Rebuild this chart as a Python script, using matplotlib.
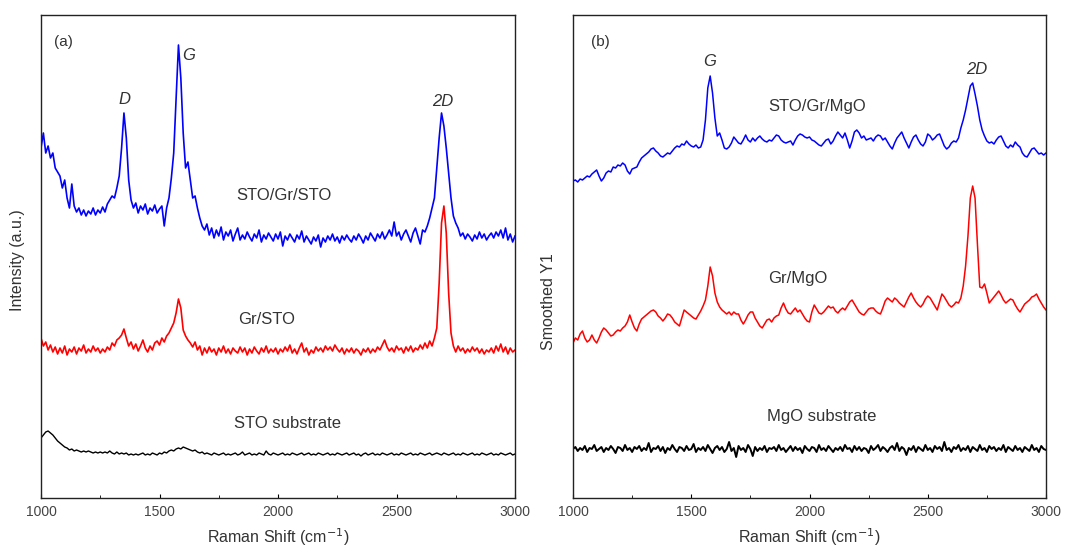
#!/usr/bin/env python3
import numpy as np
import matplotlib
matplotlib.use("Agg")
import matplotlib.pyplot as plt
from matplotlib.ticker import MultipleLocator

plt.rcParams["font.family"] = ["Liberation Sans", "DejaVu Sans"]

# -----------------------------
# data (arbitrary intensity units)
# -----------------------------
shift = np.arange(1000, 3001, 10)  # Raman shift, cm^-1

# (a) STO/Gr/STO
sto_gr_sto = [
    350, 365, 345, 352, 340, 345, 330, 326, 322, 310,
    318, 300, 290, 314, 292, 286, 290, 283, 288, 282,
    287, 284, 290, 283, 288, 285, 291, 286, 294, 298,
    302, 300, 310, 322, 350, 385, 360, 318, 298, 290,
    295, 285, 292, 288, 294, 284, 290, 287, 293, 285,
    289, 292, 272, 290, 300, 320, 345, 400, 453, 420,
    365, 330, 336, 318, 300, 302, 290, 280, 272, 268,
    274, 263, 270, 260, 268, 262, 271, 258, 266, 262,
    268, 257, 264, 270, 258, 263, 259, 266, 261, 257,
    264, 260, 268, 256, 263, 259, 265, 261, 257, 264,
    259, 266, 252, 262, 258, 264, 260, 256, 263, 259,
    267, 256, 262, 258, 254, 261, 257, 263, 251, 260,
    256, 262, 258, 264, 257, 261, 255, 262, 258, 263,
    259, 256, 262, 258, 264, 260, 255, 262, 258, 265,
    261, 257, 264, 260, 266, 259, 263, 268, 262, 276,
    262, 266, 258, 264, 268, 262, 256, 265, 270, 262,
    254, 268, 266, 272, 280, 290, 300, 330, 360, 385,
    372, 350, 325, 300, 282, 275, 270, 262, 265, 259,
    264, 261, 257, 263, 259, 266, 260, 264, 258, 262,
    265, 260, 266, 262, 268, 260, 270, 258, 264, 256,
    262,
]

# (a) Gr/STO
gr_sto = [
    160, 152, 156, 148, 153, 146, 151, 144, 150, 145,
    152, 143, 149, 146, 151, 144, 150, 147, 153, 145,
    149, 146, 152, 147, 150, 145, 149, 146, 151, 148,
    155, 152, 158, 160, 163, 169, 160, 152, 156, 149,
    154, 147, 152, 158, 150, 146, 152, 148, 155, 157,
    153, 160, 156, 162, 165, 170, 175, 185, 199, 190,
    168, 162, 158, 155, 151, 156, 148, 152, 143, 150,
    145, 151, 146, 149, 143, 150, 146, 152, 145, 149,
    144, 150, 147, 145, 151, 146, 150, 143, 149, 145,
    151, 147, 144, 150, 146, 152, 145, 149, 146, 150,
    144, 149, 146, 151, 147, 153, 145, 149, 144, 150,
    155, 146, 150, 143, 148, 145, 151, 147, 150, 146,
    152, 148, 151, 147, 153, 149, 146, 150, 144, 149,
    146, 150, 145, 149, 147, 143, 149, 146, 150, 145,
    149, 146, 151, 148, 153, 158, 151, 147, 150, 146,
    152, 148, 150, 145, 151, 147, 152, 146, 150, 148,
    153, 149, 155, 150, 157, 152, 160, 170, 215, 275,
    292, 265, 205, 165, 152, 146, 152, 147, 150, 145,
    149, 146, 151, 147, 150, 145, 149, 144, 148, 146,
    150, 145, 152, 147, 154, 146, 151, 144, 150, 146,
    148,
]

# (a) STO substrate
sto_sub = [
    60, 63, 66, 67, 65, 63, 60, 57, 55, 53,
    51, 50, 48, 49, 47, 48, 47, 46, 47, 46,
    47, 46, 45, 46, 45, 46, 45, 46, 45, 47,
    45, 44, 46, 44, 45, 44, 45, 43, 44, 43,
    44, 43, 44, 45, 43, 44, 43, 45, 44, 43,
    45, 44, 46, 45, 47, 48, 47, 49, 50, 49,
    51, 50, 49, 48, 47, 48, 46, 45, 46, 44,
    45, 44, 43, 45, 44, 43, 44, 45, 43, 44,
    43, 44, 45, 43, 44, 46, 43, 44, 45, 43,
    44, 43, 45, 44, 43, 47, 44, 43, 45, 44,
    43, 44, 45, 43, 44, 43, 45, 44, 43, 44,
    45, 43, 44, 45, 43, 44, 43, 45, 44, 43,
    44, 45, 43, 44, 43, 45, 44, 43, 44, 45,
    43, 44, 45, 43, 44, 42, 44, 45, 43, 44,
    45, 43, 44, 43, 45, 44, 43, 44, 45, 43,
    44, 43, 45, 44, 43, 44, 45, 43, 44, 43,
    45, 44, 43, 44, 45, 43, 44, 45, 44, 43,
    45, 44, 43, 44, 45, 43, 44, 43, 45, 44,
    43, 44, 45, 43, 44, 43, 45, 44, 43, 44,
    45, 43, 44, 43, 45, 44, 43, 44, 45, 43,
    44,
]

# (b) STO/Gr/MgO
sto_gr_mgo = [
    317, 318, 316, 319, 318, 320, 322, 321, 324, 326,
    328, 322, 317, 320, 325, 327, 326, 331, 330, 333,
    332, 335, 333, 327, 324, 329, 330, 331, 336, 340,
    342, 344, 346, 349, 350, 347, 345, 342, 341, 343,
    345, 344, 347, 350, 352, 351, 354, 353, 357, 354,
    352, 351, 353, 350, 351, 358, 378, 410, 422, 405,
    380, 362, 365, 358, 350, 349, 351, 355, 361, 358,
    355, 354, 358, 363, 358, 356, 360, 357, 360, 362,
    359, 357, 356, 358, 357, 360, 363, 362, 358, 356,
    355, 356, 357, 353, 358, 362, 364, 363, 361, 360,
    361, 358, 357, 355, 353, 352, 355, 358, 359, 354,
    357, 362, 366, 363, 360, 365, 358, 350, 357, 366,
    368, 365, 360, 362, 358, 359, 360, 357, 361, 363,
    362, 358, 360, 356, 352, 349, 355, 360, 363, 366,
    360, 355, 350, 356, 361, 363, 358, 354, 352, 356,
    364, 362, 358, 360, 363, 364, 358, 352, 349, 351,
    355, 357, 356, 360, 370, 378, 388, 400, 412, 415,
    404, 392, 378, 368, 362, 357, 355, 356, 354, 358,
    361, 362, 357, 352, 350, 353, 351, 356, 353, 351,
    345, 342, 341, 345, 349, 350, 347, 344, 345, 343,
    345,
]

# (b) Gr/MgO
gr_mgo = [
    155, 160, 158, 164, 167, 160, 156, 158, 163, 158,
    155, 160, 166, 170, 168, 165, 162, 163, 166, 168,
    167, 170, 172, 176, 183, 176, 170, 167, 174, 179,
    181, 183, 185, 187, 188, 186, 182, 180, 177, 180,
    184, 183, 180, 176, 174, 172, 180, 188, 186, 184,
    182, 180, 179, 183, 187, 192, 198, 212, 231, 222,
    205, 196, 191, 188, 186, 184, 186, 183, 186, 184,
    184, 178, 174, 178, 183, 186, 186, 180, 176, 172,
    170, 174, 178, 179, 176, 180, 182, 183, 190, 195,
    189, 185, 184, 187, 190, 186, 188, 184, 180, 177,
    176, 186, 193, 189, 185, 184, 186, 189, 192, 190,
    191, 187, 185, 188, 190, 188, 192, 196, 198, 194,
    190, 186, 184, 183, 186, 189, 190, 190, 187, 185,
    184, 190, 197, 200, 198, 196, 200, 198, 195, 193,
    191, 196, 201, 205, 200, 196, 193, 191, 194, 199,
    202, 200, 196, 192, 188, 196, 204, 201, 197, 193,
    191, 193, 196, 195, 200, 212, 232, 262, 300, 312,
    300, 254, 211, 210, 214, 205, 195, 198, 201, 204,
    207, 203, 198, 195, 197, 199, 198, 193, 189, 186,
    190, 194, 196, 198, 201, 202, 204, 199, 195, 191,
    188,
]

# (b) MgO substrate
mgo_sub = [
    49, 51, 47, 50, 48, 52, 46, 50, 49, 53,
    47, 49, 51, 46, 50, 48, 52, 49, 45, 51,
    50, 47, 53, 48, 50, 46, 51, 49, 52, 47,
    50, 48, 55, 46, 50, 49, 52, 47, 51, 45,
    50, 48, 53, 49, 46, 51, 50, 47, 52, 48,
    49, 54, 46, 50, 48, 51, 47, 53, 49, 45,
    50, 52, 48, 51, 46, 49, 56, 47, 50, 41,
    52, 48, 50, 46, 53, 49, 42, 51, 47, 50,
    48, 52, 46, 50, 49, 51, 47, 53, 48, 50,
    46, 49, 52, 47, 51, 48, 50, 45, 52, 49,
    47, 51, 50, 46, 53, 48, 50, 47, 52, 49,
    46, 50, 48, 51, 47, 53, 49, 50, 46, 52,
    48, 51, 47, 50, 49, 45, 52, 48, 50, 53,
    47, 51, 49, 46, 50, 52, 48, 55, 47, 51,
    49, 43, 50, 48, 52, 46, 51, 49, 47, 53,
    48, 50, 46, 52, 49, 51, 47, 56, 48, 50,
    46, 51, 49, 53, 47, 50, 48, 52, 46, 51,
    49, 47, 53, 48, 50, 46, 52, 49, 51, 47,
    50, 48, 53, 46, 51, 49, 47, 52, 48, 50,
    46, 51, 49, 47, 53, 48, 50, 46, 52, 49,
    48,
]

TXT = "#333333"


def style_axes(ax, ylabel, ylabel_xy):
    ax.set_xlim(1000, 3000)
    ax.set_ylim(0, 483)
    ax.xaxis.set_major_locator(MultipleLocator(500))
    ax.xaxis.set_minor_locator(MultipleLocator(250))
    ax.tick_params(axis="x", which="major", direction="in", length=3, width=0.8,
                   labelsize=10, labelcolor="#444444", pad=5)
    ax.tick_params(axis="x", which="minor", direction="in", length=2, width=0.6)
    ax.set_yticks([])
    for sp in ax.spines.values():
        sp.set_linewidth(1.0)
        sp.set_color("#222222")
    ax.set_xlabel("Raman Shift (cm$^{-1}$)", fontsize=11.5, color=TXT, labelpad=5)
    ax.set_ylabel(ylabel, fontsize=11.5, color=TXT)
    ax.yaxis.set_label_coords(*ylabel_xy)


fig = plt.figure(figsize=(10.65, 5.46), dpi=100)
ax_a = fig.add_axes([41 / 1065, 48 / 546, 474 / 1065, 483 / 546])
ax_b = fig.add_axes([573 / 1065, 48 / 546, 473 / 1065, 483 / 546])

# --- panel (a) ---
ax_a.plot(shift, sto_gr_sto, color="#0000ff", lw=1.2)
ax_a.plot(shift, gr_sto, color="#ff0000", lw=1.2)
ax_a.plot(shift, sto_sub, color="black", lw=1.0)
style_axes(ax_a, "Intensity (a.u.)", (-0.033, 0.493))

ax_a.text(0.027, 0.944, "(a)", transform=ax_a.transAxes, fontsize=11, color=TXT,
          ha="left", va="center")
ax_a.text(1354, 398, "D", fontsize=12, style="italic", color=TXT, ha="center", va="center")
ax_a.text(1622, 443, "G", fontsize=12, style="italic", color=TXT, ha="center", va="center")
ax_a.text(2696, 397, "2D", fontsize=12, style="italic", color=TXT, ha="center", va="center")
ax_a.text(2025, 302, "STO/Gr/STO", fontsize=12, color=TXT, ha="center", va="center")
ax_a.text(1950, 179, "Gr/STO", fontsize=12, color=TXT, ha="center", va="center")
ax_a.text(2040, 75, "STO substrate", fontsize=12, color=TXT, ha="center", va="center")

# --- panel (b) ---
ax_b.plot(shift, sto_gr_mgo, color="#0000ff", lw=1.1)
ax_b.plot(shift, gr_mgo, color="#ff0000", lw=1.1)
ax_b.plot(shift, mgo_sub, color="black", lw=1.4)
style_axes(ax_b, "Smoothed Y1", (-0.035, 0.406))

ax_b.text(0.037, 0.944, "(b)", transform=ax_b.transAxes, fontsize=11, color=TXT,
          ha="left", va="center")
ax_b.text(1579, 436, "G", fontsize=12, style="italic", color=TXT, ha="center", va="center")
ax_b.text(2708, 429, "2D", fontsize=12, style="italic", color=TXT, ha="center", va="center")
ax_b.text(2031, 392, "STO/Gr/MgO", fontsize=12, color=TXT, ha="center", va="center")
ax_b.text(1951, 219, "Gr/MgO", fontsize=12, color=TXT, ha="center", va="center")
ax_b.text(2053, 81, "MgO substrate", fontsize=12, color=TXT, ha="center", va="center")

fig.savefig("out.png", dpi=100)
